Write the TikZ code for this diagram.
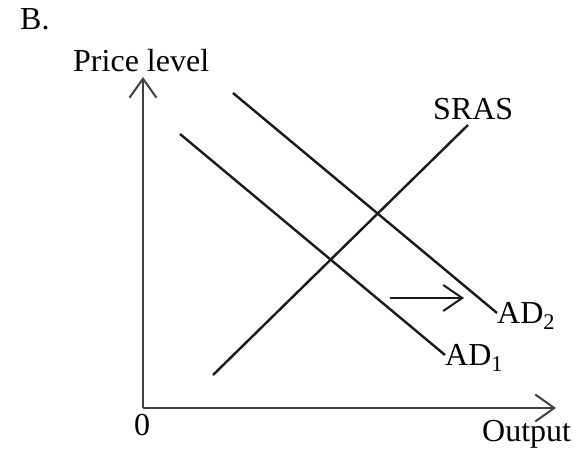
\documentclass[tikz,border=0pt]{standalone}
\usepackage{fontspec}
\setmainfont{Liberation Serif}
\usetikzlibrary{arrows.meta}
\begin{document}
\begin{tikzpicture}[x=1pt,y=-1pt,
  lbl/.style={inner sep=0pt,anchor=base west,font=\fontsize{32}{37}\selectfont},
  axisline/.style={draw=black!75,line width=2.6pt,-{Straight Barb[length=19pt,width=27pt,line width=2pt]}},
  curveline/.style={draw=black!90,line width=2.4pt},
  shiftarrow/.style={draw=black!90,line width=2.4pt,-{Straight Barb[length=19pt,width=26pt,line width=2pt]}}]
\path[use as bounding box] (0,0) rectangle (577,454);
% axes
\coordinate (O) at (143,408);
\coordinate (ytip) at (143,77);
\coordinate (xtip) at (556,408);
\draw[axisline] (O) -- (ytip);
\draw[axisline] (O) -- (xtip);
% curves
\coordinate (s1) at (213,375);
\coordinate (s2) at (468,125);
\coordinate (a1) at (180,134);
\coordinate (a2) at (445,355);
\coordinate (b1) at (233,93);
\coordinate (b2) at (497,313);
\draw[curveline] (s1) -- (s2);
\draw[curveline] (a1) -- (a2);
\draw[curveline] (b1) -- (b2);
% shift arrow
\coordinate (h1) at (390,298);
\coordinate (h2) at (464,298);
\draw[shiftarrow] (h1) -- (h2);
% labels
\node[lbl] (B) at (20,30) {B.};
\node[lbl] (pl) at (73,72) {Price level};
\node[lbl] (sras) at (433,120) {SRAS};
\node[lbl] (ad2) at (497,323) {AD\textsubscript{2}};
\node[lbl] (ad1) at (445,365) {AD\textsubscript{1}};
\node[lbl,anchor=base] (zero) at (142,435) {0};
\node[lbl] (out) at (482,441) {Output};
\end{tikzpicture}
\end{document}
